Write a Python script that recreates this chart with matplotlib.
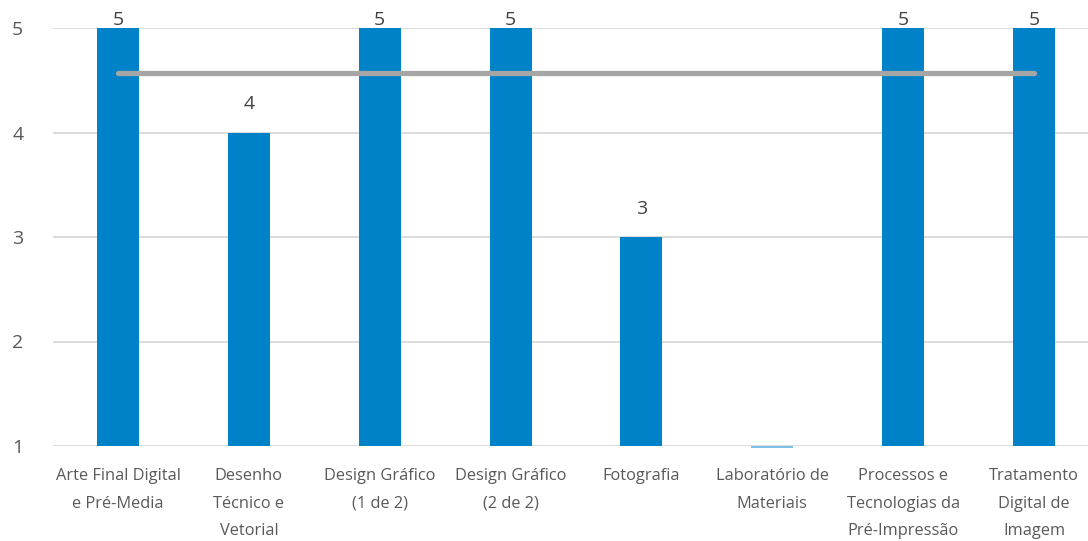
import matplotlib
matplotlib.use("Agg")
import matplotlib.pyplot as plt
import numpy as np

categories = ["Arte Final Digital\ne Pré-Media", "Desenho\nTécnico e\nVetorial",
              "Design Gráfico\n(1 de 2)", "Design Gráfico\n(2 de 2)", "Fotografia",
              "Laboratório de\nMateriais", "Processos e\nTecnologias da\nPré-Impressão",
              "Tratamento\nDigital de\nImagem"]
values = [5, 4, 5, 5, 3, None, 5, 5]
average = 4.57
yticks = [1, 2, 3, 4, 5]

plt.rcParams['font.family'] = ['Open Sans', 'DejaVu Sans']

fig = plt.figure(figsize=(10.88, 5.41), dpi=100)
ax = fig.add_axes([52.5/1088, 1-446/541, 1047/1088, (446-28)/541])

x = np.arange(len(categories))
bar_color = "#0082c8"
for xi, v in zip(x, values):
    if v is None:
        ax.bar(xi, 0.02, bottom=0.98, width=0.32, color="#7cc0e6", zorder=3,
               clip_on=False)
        continue
    ax.bar(xi, v - 1, bottom=1, width=0.32, color=bar_color, zorder=3)
    ax.text(xi, min(v + 0.27, 5.08), str(v), ha='center', va='center', fontsize=14,
            color='#404040', clip_on=False, zorder=5)

ax.plot([x[0], x[-1]], [average, average], color='#a6a6a6', lw=3.8,
        solid_capstyle='round', zorder=4)

ax.set_xlim(-0.5, len(categories) - 0.5)
ax.set_ylim(1, 5)
ax.set_yticks(yticks)
ax.set_xticks(x)
ax.set_xticklabels(categories, fontsize=11.8, color='#595959', linespacing=1.95)
ax.tick_params(axis='x', length=0, pad=16)
ax.tick_params(axis='y', length=0, pad=29, labelsize=14, labelcolor='#595959')
for lab in ax.get_yticklabels():
    lab.set_horizontalalignment('left')
ax.yaxis.grid(True, color='#d9d9d9', lw=1.3, zorder=0)
ax.set_axisbelow(True)
for s in ax.spines.values():
    s.set_visible(False)

fig.savefig("out.png", dpi=100)
